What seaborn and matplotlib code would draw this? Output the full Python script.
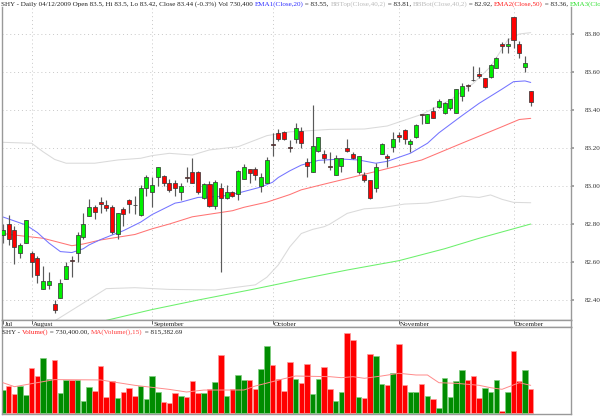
import numpy as np
import pandas as pd
import matplotlib
matplotlib.use("Agg")
import matplotlib.pyplot as plt
import matplotlib.transforms as mtransforms
import seaborn as sns

# --- values (SHY daily, 27 Jul - 4 Dec 2009) ---
opens = [82.74, 82.80, 82.77, 82.65, 82.70, 82.65, 82.62, 82.46, 82.48, 82.38,
         82.41, 82.51, 82.61, 82.65, 82.73, 82.84, 82.89, 82.915, 82.90, 82.89,
         82.75, 82.88, 82.925, 82.902, 82.845, 82.99, 82.97, 83.045, 83.055, 83.017,
         83.015, 82.967, 83.047, 83.075, 83.075, 82.935, 83.01, 82.895, 82.988, 82.935,
         82.967, 82.956, 83.037, 83.088, 83.088, 83.00, 83.017, 83.222, 83.277, 83.285,
         83.207, 83.246, 83.289, 83.125, 83.075, 83.186, 83.167, 83.107, 83.058, 83.107,
         83.198, 83.167, 83.075, 83.058, 83.032, 82.988, 83.167, 83.16, 83.207, 83.268,
         83.295, 83.22, 83.26, 83.378, 83.33, 83.395, 83.417, 83.386, 83.409, 83.386,
         83.475, 83.53, 83.56, 83.588, 83.567, 83.575, 83.623, 83.747, 83.738, 83.888,
         83.747, 83.625, 83.50]
highs = [82.80, 82.85, 82.79, 82.70, 82.82, 82.66, 82.63, 82.58, 82.55, 82.40,
         82.51, 82.60, 82.63, 82.76, 82.86, 82.93, 82.90, 82.94, 82.925, 82.90,
         82.86, 82.89, 82.93, 82.945, 83.005, 83.06, 83.05, 83.10, 83.06, 83.037,
         83.03, 83.014, 83.10, 83.146, 83.08, 83.015, 83.026, 83.03, 83.014, 83.005,
         82.975, 83.085, 83.115, 83.09, 83.10, 83.07, 83.155, 83.28, 83.30, 83.29,
         83.24, 83.33, 83.312, 83.146, 83.426, 83.26, 83.19, 83.18, 83.163, 83.146,
         83.245, 83.18, 83.16, 83.075, 83.032, 83.12, 83.225, 83.167, 83.286, 83.286,
         83.30, 83.25, 83.325, 83.38, 83.38, 83.414, 83.456, 83.44, 83.456, 83.51,
         83.54, 83.535, 83.632, 83.628, 83.57, 83.64, 83.68, 83.76, 83.777, 83.888,
         83.765, 83.684, 83.50]
lows = [82.70, 82.69, 82.59, 82.62, 82.70, 82.52, 82.49, 82.46, 82.46, 82.33,
        82.41, 82.51, 82.52, 82.60, 82.72, 82.84, 82.825, 82.86, 82.87, 82.75,
        82.72, 82.79, 82.86, 82.855, 82.84, 82.95, 82.89, 83.00, 83.00, 82.97,
        82.95, 82.926, 83.02, 83.015, 82.96, 82.93, 82.89, 82.88, 82.545, 82.93,
        82.94, 82.926, 83.035, 83.015, 83.03, 82.97, 83.015, 83.16, 83.235, 83.24,
        83.18, 83.225, 83.198, 83.049, 83.075, 83.18, 83.12, 83.085, 83.058, 83.075,
        83.18, 83.14, 83.065, 83.022, 82.93, 82.97, 83.167, 83.10, 83.18, 83.233,
        83.22, 83.18, 83.255, 83.326, 83.33, 83.36, 83.41, 83.38, 83.40, 83.386,
        83.45, 83.50, 83.555, 83.567, 83.515, 83.57, 83.62, 83.70, 83.70, 83.728,
        83.672, 83.60, 83.42]
closes = [82.77, 82.72, 82.68, 82.69, 82.82, 82.60, 82.53, 82.50, 82.50, 82.35,
          82.49, 82.58, 82.605, 82.74, 82.80, 82.89, 82.865, 82.905, 82.885, 82.76,
          82.856, 82.855, 82.905, 82.898, 82.99, 83.045, 83.005, 83.10, 83.017, 82.98,
          82.99, 83.00, 83.043, 83.017, 82.967, 83.01, 82.895, 83.02, 82.935, 82.967,
          82.947, 83.08, 83.10, 83.067, 83.056, 83.046, 83.137, 83.218, 83.246, 83.246,
          83.20, 83.307, 83.228, 83.107, 83.211, 83.256, 83.146, 83.098, 83.146, 83.146,
          83.186, 83.146, 83.16, 83.032, 82.935, 83.098, 83.22, 83.146, 83.247, 83.26,
          83.246, 83.237, 83.32, 83.374, 83.377, 83.36, 83.447, 83.435, 83.456, 83.509,
          83.526, 83.526, 83.556, 83.58, 83.52, 83.637, 83.675, 83.738, 83.747, 83.768,
          83.698, 83.649, 83.44]
volume_k = [692, 802, 573, 819, 552, 1345, 1107, 1642, 1018, 1582,
            594, 989, 989, 989, 356, 781, 662, 1404, 493, 959,
            445, 623, 742, 523, 802, 416, 1099, 641, 335, 306,
            594, 514, 475, 968, 603, 612, 721, 929, 1731, 514,
            713, 1128, 980, 989, 721, 1315, 1989, 1434, 1027, 653,
            1514, 1009, 900, 1464, 564, 1018, 1366, 730, 356, 632,
            2375, 2167, 475, 454, 1752, 1692, 861, 840, 1196, 2049,
            831, 623, 632, 861, 505, 416, 166, 1048, 484, 950,
            1286, 989, 1107, 463, 760, 641, 989, 68, 641, 1841,
            968, 1286, 730]
# volume bar colour as shown (1 = green, 0 = red)
vol_up = [1, 0, 0, 1, 1, 0, 0, 1, 1, 0, 1, 1, 0, 1, 1, 1, 0, 0, 0, 0,
          1, 0, 0, 0, 1, 1, 1, 1, 0, 0, 0, 1, 0, 0, 0, 1, 0, 1, 0, 1,
          0, 1, 1, 0, 0, 1, 1, 0, 0, 0, 0, 1, 0, 0, 1, 1, 0, 0, 1, 1,
          0, 0, 1, 0, 0, 1, 1, 0, 1, 0, 0, 1, 1, 0, 1, 0, 1, 1, 1, 1,
          1, 0, 0, 0, 1, 1, 1, 0, 1, 0, 0, 1, 0]

ema20_idx = [1, 5, 7, 9, 11, 13, 15, 16, 18, 20, 22, 24, 25, 27, 28, 31, 32, 35, 39,
             42, 46, 48, 49, 51, 53, 56, 60, 63, 66, 68, 72, 75, 77, 81, 84, 88, 90, 92, 93]
ema20_val = [82.837, 82.795, 82.755, 82.70, 82.655, 82.650, 82.670, 82.69, 82.718, 82.742,
             82.765, 82.795, 82.81, 82.85, 82.865, 82.91, 82.915, 82.94, 82.945, 82.963,
             82.995, 83.02, 83.045, 83.08, 83.11, 83.135, 83.142, 83.137, 83.12, 83.13,
             83.172, 83.225, 83.28, 83.37, 83.435, 83.51, 83.549, 83.553, 83.545]
ema50_idx = [1, 3, 8, 13, 15, 18, 24, 27, 30, 34, 41, 43, 47, 51, 53, 57, 60, 67, 74,
             81, 88, 91, 93]
ema50_val = [82.75, 82.742, 82.725, 82.686, 82.695, 82.716, 82.745, 82.775, 82.80, 82.838,
             82.87, 82.888, 82.915, 82.955, 82.98, 83.01, 83.032, 83.084, 83.137, 83.225,
             83.312, 83.35, 83.356]
ema3_idx = [19, 27, 35, 44, 49, 53, 61, 70, 78, 84, 93]
ema3_val = [82.293, 82.35, 82.40, 82.453, 82.484, 82.51, 82.558, 82.607, 82.67, 82.725, 82.80]
bbtop_idx = [1, 6, 8, 10, 12, 17, 21, 25, 27, 30, 34, 37, 42, 47, 51, 58, 64, 68, 74,
             79, 83, 86, 89, 91, 93]
bbtop_val = [83.23, 83.225, 83.18, 83.14, 83.12, 83.12, 83.137, 83.146, 83.16, 83.172,
             83.163, 83.19, 83.207, 83.265, 83.285, 83.298, 83.30, 83.316, 83.377, 83.453,
             83.54, 83.628, 83.768, 83.80, 83.807]
bbbot_idx = [10, 15, 19, 24, 30, 38, 45, 47, 49, 51, 53, 55, 57, 58, 61, 64, 67, 71, 75,
             78, 81, 84, 86, 88, 90, 93]
bbbot_val = [82.29, 82.384, 82.46, 82.465, 82.456, 82.453, 82.48, 82.52, 82.585, 82.68,
             82.75, 82.772, 82.786, 82.80, 82.856, 82.88, 82.886, 82.905, 82.91, 82.926,
             82.947, 82.94, 82.953, 82.93, 82.914, 82.912]
volma_idx = [1, 3, 10, 18, 24, 30, 33, 36, 43, 45, 50, 52, 58, 60, 62, 64, 67, 70, 73,
             75, 77, 80, 84, 86, 88, 91, 93]
volma_val = [908, 790, 1000, 990, 830, 710, 632, 690, 692, 810, 1027, 1107, 1087, 1057,
             1087, 1039, 1107, 1188, 1137, 1137, 908, 890, 831, 760, 712, 908, 830]

month_names = ['Jul', 'August', 'September', 'October', 'November', 'December']
month_idx = [1, 6, 27, 48, 70, 90]
price_ticks = [82.40, 82.60, 82.80, 83.00, 83.20, 83.40, 83.60, 83.80]

title_parts = [
    ("SHY - Daily 04/12/2009 Open 83.5, Hi 83.5, Lo 83.42, Close 83.44 (-0.3%) Vol 730,400 ", '#222222'),
    ("EMA1(Close,20)", '#3030ff'), (" = 83.55, ", '#222222'),
    ("BBTop(Close,40,2)", '#bbbbbb'), (" = 83.81, ", '#222222'),
    ("BBBot(Close,40,2)", '#bbbbbb'), (" = 82.92, ", '#222222'),
    ("EMA2(Close,50)", '#ff2020'), (" = 83.36, ", '#222222'),
    ("EMA3(Close,200)", '#30e030'), (" = 82.80", '#222222'),
]
vol_title_parts = [
    ("SHY - ", '#222222'), ("Volume()", '#ff2020'), (" = 730,400.00, ", '#222222'),
    ("MA(Volume(),15)", '#ff4040'), (" = 815,382.69", '#222222'),
]

# --- figure layout (pixel based) ---
W, H = 600, 416
sns.set_theme(style="white")
plt.rcParams['font.family'] = ['Liberation Serif', 'DejaVu Serif']
FS = 5.1

fig = plt.figure(figsize=(W / 100, H / 100), dpi=100)
fig.patch.set_facecolor('white')

def px_axes(x0, y0, x1, y1):
    return fig.add_axes([x0 / W, 1 - y1 / H, (x1 - x0) / W, (y1 - y0) / H])

ax = px_axes(2, 7, 571, 320)
ax_d = px_axes(2, 320, 571, 327)
ax_v = px_axes(2, 327, 571, 414)

step = 5.736
xmin = 1 - 1 / step
xmax = 1 + 568 / step
for a in (ax, ax_d, ax_v):
    a.set_xlim(xmin, xmax)
    a.set_facecolor('white')
    for s in a.spines.values():
        s.set_color('#999999')
        s.set_linewidth(1.0)

n = np.arange(1, len(closes) + 1)
o = np.array(opens)
c = np.array(closes)
up = c >= o

# --- price panel ---
ax.set_ylim(82.295, 83.942)
ax.spines['top'].set_visible(False)
ax.set_yticks(price_ticks)
ax.set_yticklabels([f"{t:.2f}" for t in price_ticks])
ax.yaxis.tick_right()
ax.tick_params(axis='y', length=2, pad=8, labelsize=FS, colors='#999999', labelcolor='#333333')
ax.set_xticks([])
ax.grid(axis='y', linestyle=(0, (1, 3)), color='#c8c8c8', linewidth=0.7)
for m in month_idx[1:]:
    ax.axvline(m, linestyle=(0, (1, 3)), color='#c8c8c8', linewidth=0.7, zorder=0)

line_style = dict(ax=ax, estimator=None, sort=False, linewidth=0.75, zorder=1.5)
sns.lineplot(x=bbtop_idx, y=bbtop_val, color='#dadada', **line_style)
sns.lineplot(x=bbbot_idx, y=bbbot_val, color='#dadada', **line_style)
sns.lineplot(x=ema3_idx, y=ema3_val, color='#6cf06c', **line_style)
sns.lineplot(x=ema50_idx, y=ema50_val, color='#ff7474', **line_style)
sns.lineplot(x=ema20_idx, y=ema20_val, color='#7474ff', **line_style)

ax.vlines(n, lows, highs, color='#5a5a5a', linewidth=0.85, zorder=2)
body_bottom = np.minimum(o, c)
body_h = np.maximum(np.abs(c - o), 0.0015)
ax.bar(n, body_h, bottom=body_bottom, width=0.7,
       color=np.where(up, '#00f000', '#ff0000'), edgecolor='#3a3a3a',
       linewidth=0.55, zorder=3)
ax.set_xlabel('')
ax.set_ylabel('')

# --- date strip ---
ax_d.set_ylim(0, 1)
ax_d.set_yticks([])
ax_d.set_xticks(month_idx)
ax_d.tick_params(axis='x', direction='in', length=3, width=0.7, color='#666666',
                 top=True, bottom=False, labelbottom=False)
trans_d = mtransforms.blended_transform_factory(ax_d.transData, ax_d.transAxes)
for m, name in zip(month_idx, month_names):
    ax_d.text(m + 0.25, 0.35, name, transform=trans_d, fontsize=FS,
              color='#222222', ha='left', va='center')

# --- volume panel ---
ax_v.set_ylim(-21, 2562)
ax_v.set_xticks([])
ax_v.set_yticks([])
vu = np.array(vol_up) == 1
vol_col = np.where(vu, '#008c00', '#ff0000')
vol_edge = np.where(vu, '#7fcf7f', '#ff9a9a')
ax_v.bar(n, volume_k, width=0.96, color=vol_col, edgecolor=vol_edge, linewidth=0.5, zorder=2)
sns.lineplot(x=volma_idx, y=volma_val, ax=ax_v, color='#ff8a8a', linewidth=0.7,
             estimator=None, sort=False, zorder=3)
ax_v.set_xlabel('')
ax_v.set_ylabel('')

# --- multi-coloured header texts ---
fig.canvas.draw()
renderer = fig.canvas.get_renderer()

def header(x_px, y_px, parts):
    x = x_px
    for s, col in parts:
        t = fig.text(x / W, 1 - y_px / H, s, color=col, fontsize=FS,
                     ha='left', va='center')
        x += t.get_window_extent(renderer).width

header(1, 4, title_parts)
header(2, 332, vol_title_parts)

fig.savefig('out.png', dpi=100, facecolor='white')
